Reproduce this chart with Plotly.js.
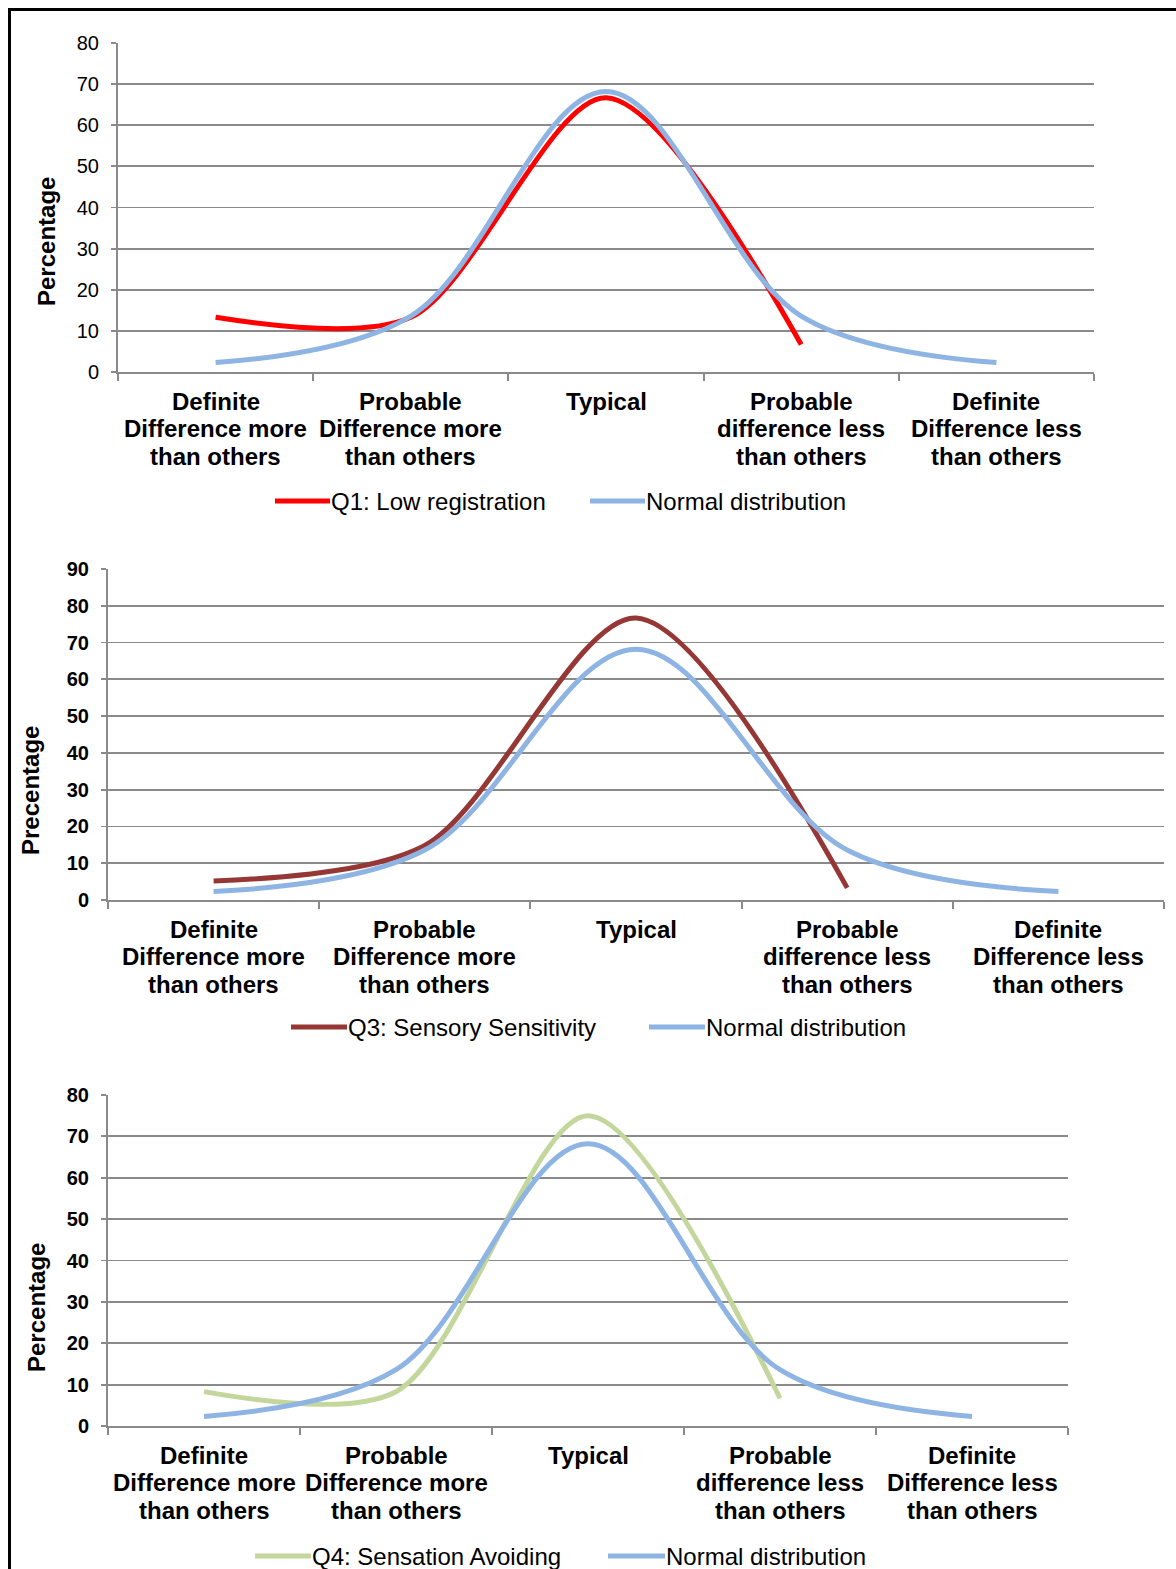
<!DOCTYPE html>
<html><head><meta charset="utf-8">
<script src="https://cdn.plot.ly/plotly-3.0.1.min.js"></script>
<style>
body{margin:0;background:#fff;width:1176px;height:1569px;position:relative;overflow:hidden}
.chart{position:absolute;left:0;width:1176px}
#frame{position:absolute;left:8px;top:8px;width:1300px;height:1700px;border-left:3px solid #000;border-top:3px solid #000;pointer-events:none;z-index:10}
</style></head><body>
<div id="c1" class="chart" style="top:0;height:520px"></div>
<div id="c2" class="chart" style="top:530px;height:520px"></div>
<div id="c3" class="chart" style="top:1060px;height:509px"></div>
<div id="frame"></div>
<script>
// ---- data ----
const categories = [
  "Definite Difference more than others",
  "Probable Difference more than others",
  "Typical",
  "Probable difference less than others",
  "Definite Difference less than others"
];
const categoryLines = [
  ["Definite", "Difference more", "than others"],
  ["Probable", "Difference more", "than others"],
  ["Typical"],
  ["Probable", "difference less", "than others"],
  ["Definite", "Difference less", "than others"]
];
const normalDistribution = [2.3, 13.6, 68.2, 13.6, 2.3];
const q1LowRegistration = [13.3, 13.3, 66.7, 6.7];
const q3SensorySensitivity = [5.2, 14.8, 76.7, 3.3];
const q4SensationAvoiding = [8.3, 8.3, 75.0, 6.7];
const yMax1 = 80, yMax2 = 90, yMax3 = 80;
const seriesNames = ["Q1: Low registration", "Q3: Sensory Sensitivity", "Q4: Sensation Avoiding", "Normal distribution"];
const yTitles = ["Percentage", "Precentage", "Percentage"];

// ---- styling ----
const FONT = "Liberation Sans, Arial, sans-serif";
const GRID = "#8a8a8a";
const LABEL_OFFSETS = [29, 56.5, 84];   // px below the x axis for each label line

function draw(id, o) {
  const W = 1176, H = o.height, m = o.margin;
  const pw = W - m.l - m.r, ph = H - m.t - m.b;
  const px = x => (x - m.l) / pw;
  const py = y => (H - m.b - y) / ph;
  const traces = o.series.map(s => ({
    type: "scatter", mode: "lines",
    x: categories.slice(0, s.values.length), y: s.values, name: s.name,
    line: {color: s.color, width: 5, shape: "spline", smoothing: s.smoothing},
    hoverinfo: "skip", showlegend: false
  }));
  const shapes = [], annotations = [];
  // category labels (one annotation per text line, at the category's position)
  categories.forEach((c, ci) => {
    categoryLines[ci].forEach((t, li) => {
      annotations.push({xref: "x", yref: "paper", x: c, y: -LABEL_OFFSETS[li] / ph,
        xanchor: "center", yanchor: "middle", showarrow: false, text: t,
        font: {family: FONT, size: 24, color: "#000", weight: "bold"}});
    });
  });
  // legend
  o.series.forEach((s, i) => {
    const L = o.legend[i];
    shapes.push({type: "line", xref: "paper", yref: "paper",
      x0: px(L.x0), x1: px(L.x1), y0: py(o.legendY), y1: py(o.legendY),
      line: {color: s.color, width: 5}});
    annotations.push({xref: "paper", yref: "paper", x: px(L.x1 - 1), y: py(o.legendY),
      xanchor: "left", yanchor: "middle", showarrow: false, text: s.name,
      font: {family: FONT, size: 24, color: "#000"}});
  });
  // y axis title
  annotations.push({xref: "paper", yref: "paper", x: px(o.titleX), y: py(o.titleY),
    xanchor: "center", yanchor: "middle", textangle: -90, showarrow: false,
    text: o.yTitle, font: {family: FONT, size: 24, color: "#000", weight: "bold"}});
  const layout = {
    width: W, height: H, margin: m,
    paper_bgcolor: "rgba(0,0,0,0)", plot_bgcolor: "rgba(0,0,0,0)",
    showlegend: false,
    xaxis: {type: "category", categoryorder: "array", categoryarray: categories,
      range: [-0.5, categories.length - 0.5], fixedrange: true,
      showgrid: false, zeroline: false, showline: true, linecolor: GRID, linewidth: 2,
      ticks: "outside", tickson: "boundaries", ticklen: 7, tickcolor: GRID, tickwidth: 2,
      showticklabels: false},
    yaxis: {range: [0, o.yMax], dtick: 10, tick0: 0, fixedrange: true,
      showgrid: true, gridcolor: GRID, gridwidth: 1.8, zeroline: false,
      showline: true, linecolor: GRID, linewidth: 2,
      ticks: "outside", ticklen: 5, tickcolor: GRID, tickwidth: 1.8,
      ticklabelstandoff: 8,
      tickfont: {family: FONT, size: 20, color: "#000", weight: o.yBold ? "bold" : "normal"}},
    shapes, annotations
  };
  Plotly.newPlot(id, traces, layout, {staticPlot: true, displayModeBar: false});
}

draw("c1", {
  height: 520, margin: {l: 118, r: 82, t: 43, b: 148}, yMax: yMax1, yBold: false,
  yTitle: yTitles[0], titleX: 46, titleY: 242,
  series: [
    {name: seriesNames[0], values: q1LowRegistration, color: "#FF0000", smoothing: 0.85},
    {name: seriesNames[3], values: normalDistribution, color: "#8EB4E3", smoothing: 1}
  ],
  legendY: 501, legend: [{x0: 275, x1: 330}, {x0: 590, x1: 645}]
});
draw("c2", {
  height: 520, margin: {l: 108, r: 12, t: 39, b: 150}, yMax: yMax2, yBold: true,
  yTitle: yTitles[1], titleX: 30, titleY: 791 - 530,
  series: [
    {name: seriesNames[1], values: q3SensorySensitivity, color: "#953735", smoothing: 0.85},
    {name: seriesNames[3], values: normalDistribution, color: "#8EB4E3", smoothing: 1}
  ],
  legendY: 1027 - 530, legend: [{x0: 291, x1: 347}, {x0: 649, x1: 705}]
});
draw("c3", {
  height: 509, margin: {l: 108, r: 108, t: 35, b: 143}, yMax: yMax3, yBold: true,
  yTitle: yTitles[2], titleX: 36, titleY: 1308 - 1060,
  series: [
    {name: seriesNames[2], values: q4SensationAvoiding, color: "#C3D69B", smoothing: 0.85},
    {name: seriesNames[3], values: normalDistribution, color: "#8EB4E3", smoothing: 1}
  ],
  legendY: 1556 - 1060, legend: [{x0: 255, x1: 311}, {x0: 608, x1: 665}]
});
</script>
</body></html>
